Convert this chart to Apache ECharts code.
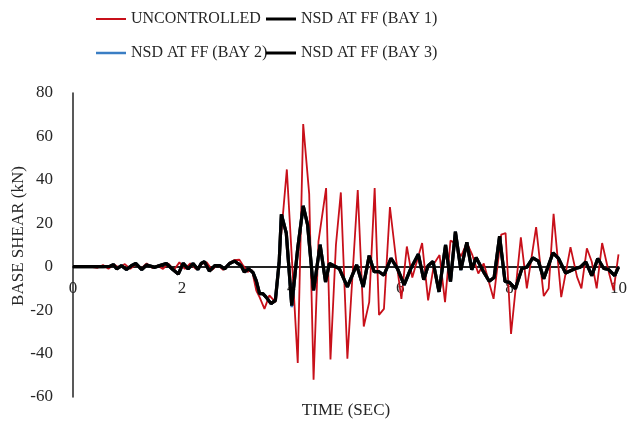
<!DOCTYPE html>
<html>
<head>
<meta charset="utf-8">
<script src="https://cdn.jsdelivr.net/npm/echarts@6/dist/echarts.min.js"></script>
<style>html,body{margin:0;padding:0;background:#fff;}#c{width:630px;height:425px;}</style>
</head>
<body>
<div id="c"></div>
<script>
// ---- data ----
const xTicks = [0, 2, 4, 6, 8, 10];
const yTicks = [-60, -40, -20, 0, 20, 40, 60, 80];

const uncTime = [
  0, 0.30, 0.45, 0.55, 0.65, 0.75, 0.85, 0.95, 1.05, 1.15,
  1.25, 1.35, 1.45, 1.55, 1.65, 1.75, 1.85, 1.95, 2.05, 2.15,
  2.25, 2.35, 2.45, 2.55, 2.65, 2.75, 2.85, 2.95, 3.05, 3.12,
  3.20, 3.28, 3.36, 3.42, 3.51, 3.60, 3.71, 3.92, 4.12, 4.22,
  4.33, 4.41, 4.50, 4.64, 4.72, 4.82, 4.91, 5.03, 5.22, 5.33,
  5.43, 5.53, 5.61, 5.70, 5.81, 5.92, 6.02, 6.12, 6.22, 6.40,
  6.51, 6.62, 6.72, 6.82, 6.92, 7.00, 7.11, 7.22, 7.32, 7.43,
  7.53, 7.71, 7.85, 7.93, 8.03, 8.21, 8.32, 8.49, 8.63, 8.72,
  8.81, 8.95, 9.12, 9.24, 9.32, 9.42, 9.51, 9.60, 9.70, 9.82,
  9.91, 10.0
];
const uncontrolled = [
  0, 0, -0.5, 0.8, -1, 1, -0.5, 1.2, -1, 1,
  -0.8, 1.5, -0.5, 0.5, -1, 1.5, -1.5, 2, -1, 1.5,
  -1, 1.2, 2, -1.5, 1, -1.5, 1.5, 3, 3.2, 0.5,
  -2.4, -1.5, -11, -14, -19.4, -13.2, -16.3, 44.8, -44.3, 65.7,
  33.4, -52, 11.7, 36.2, -42.7, 10, 34.2, -42.4, 35.3, -27.5,
  -16.3, 36.2, -22.2, -19.4, 27.5, 3.9, -14.8, 9.3, -5, 10.9,
  -15.5, 1.5, 5.4, -16.3, 12, 10.9, 4.7, 11, 5.4, -3.1,
  1.5, -14.8, 14.8, 15.5, -31, 13.5, -10, 18.2, -13.5, -10,
  24.4, -14, 9, -4.7, -10, 8.5, 2.3, -10, 10.9, -2.3,
  -10.9, 5.7
];

const nsdTime = [
  0, 0.50, 0.55, 0.68, 0.74, 0.80, 0.89, 0.98, 1.07, 1.15,
  1.26, 1.35, 1.50, 1.59, 1.71, 1.83, 1.93, 2.02, 2.11, 2.20,
  2.29, 2.35, 2.41, 2.50, 2.60, 2.69, 2.78, 2.87, 2.96, 3.02,
  3.08, 3.14, 3.22, 3.30, 3.36, 3.42, 3.48, 3.54, 3.63, 3.71,
  3.78, 3.82, 3.91, 4.01, 4.12, 4.22, 4.30, 4.41, 4.53, 4.63,
  4.70, 4.88, 5.03, 5.20, 5.32, 5.43, 5.52, 5.61, 5.70, 5.83,
  5.95, 6.07, 6.19, 6.33, 6.43, 6.51, 6.60, 6.71, 6.83, 6.92,
  7.01, 7.11, 7.22, 7.31, 7.39, 7.53, 7.63, 7.72, 7.82, 7.92,
  8.00, 8.11, 8.23, 8.32, 8.43, 8.53, 8.63, 8.80, 8.90, 9.03,
  9.21, 9.30, 9.40, 9.51, 9.62, 9.73, 9.82, 9.93, 10.0
];
const bay1 = [
  0, 0, 0, 0.2, 1, -1, 0.5, -1.3, 0.5, 1.5,
  -1.3, 0.8, -0.3, 0.5, 1.5, -1.3, -3.4, 1.6, -1, 1.5,
  -1.3, 1.5, 2.3, -2, 0.5, 0.5, -1, 1.5, 2.6, 1.5,
  0.5, -2.4, -1, -2.7, -6.5, -12.4, -12.4, -14, -17, -15.5,
  2.3, 24.1, 15.5, -17.9, 8.5, 28, 19.4, -10.9, 10.1, -7,
  1.5, -0.8, -9.3, 0.8, -9.3, 5.1, -2.3, -2.3, -3.9, 3.9,
  -1, -8.4, -1, 5.8, -6, 0.5, 2.4, -11.6, 10, -6.8,
  16.1, -1.5, 11.2, -1.4, 4.2, -2.5, -6.7, -5, 14, -6.8,
  -7.2, -10.1, -0.8, -0.2, 4.1, 2.6, -5.5, 6.4, 3.8, -2.9,
  -0.8, -0.2, 2.2, -4.1, 3.8, -0.8, -1.3, -4.1, -0.2
];
const bay2 = [
  0, 0, 0, 0.2, 1, -1, 0.5, -1.3, 0.5, 1.5,
  -1.3, 0.8, -0.3, 0.5, 1.5, -1.3, -3.4, 1.6, -1, 1.5,
  -1.3, 1.5, 2.3, -2, 0.5, 0.5, -1, 1.5, 2.6, 1.5,
  0.5, -2.4, -1, -2.7, -6.5, -12.4, -12.4, -14, -17, -15.5,
  2.3, 24.1, 15.5, -18.6, 8.5, 28, 19.4, -10.9, 10.1, -7,
  1.5, -0.8, -9.3, 0.8, -9.3, 5.1, -2.3, -2.3, -3.9, 3.9,
  -1, -8.4, -1, 5.8, -6, 0.5, 2.4, -11.6, 10, -6.8,
  16.1, -1.5, 11.2, -1.4, 4.2, -2.5, -6.7, -5, 14, -6.8,
  -7.2, -10.1, -0.8, -0.2, 4.1, 2.6, -5.5, 6.4, 3.8, -2.9,
  -0.8, -0.2, 2.2, -4.1, 3.8, -0.8, -1.3, -4.1, -0.2
];
const bay3 = bay1.slice();

const names = ['UNCONTROLLED', 'NSD AT FF (BAY 1)', 'NSD AT FF (BAY 2)', 'NSD AT FF (BAY 3)'];

// ---- chart ----
const FONT = "'Liberation Serif', 'Times New Roman', serif";
const TXT = '#262626';
const pair = (ts, vs) => ts.map((t, i) => [t, vs[i]]);

const chart = echarts.init(document.getElementById('c'), null, {renderer: 'canvas'});
const legendText = {fontFamily: FONT, fontSize: 16, color: TXT};
function lg(name, left, top, h) {
  return {data: [{name: name, icon: 'rect'}], left: left, top: top, itemWidth: 30, itemHeight: h,
          itemGap: 0, textStyle: legendText, selectedMode: false, padding: 0};
}
chart.setOption({
  animation: false,
  backgroundColor: '#fff',
  legend: [lg(names[0], 96, 11, 2), lg(names[1], 266, 11, 3), lg(names[2], 96, 45, 2.5), lg(names[3], 266, 45, 3)],
  grid: {left: 73, right: 10, top: 93, bottom: 28, containLabel: false},
  xAxis: {
    type: 'value', min: xTicks[0], max: xTicks[xTicks.length - 1], interval: 2,
    axisLine: {onZero: true, lineStyle: {color: '#222', width: 2}},
    axisTick: {show: false},
    splitLine: {show: false},
    axisLabel: {fontFamily: FONT, fontSize: 17, color: TXT, margin: -117}
  },
  yAxis: {
    type: 'value', min: yTicks[0], max: yTicks[yTicks.length - 1], interval: 20,
    axisLine: {show: true, onZero: false, lineStyle: {color: '#222', width: 1.5}},
    axisTick: {show: false},
    splitLine: {show: false},
    axisLabel: {fontFamily: FONT, fontSize: 17, color: TXT, margin: 20}
  },
  graphic: [
    {type: 'text', x: 19, y: 236, rotation: Math.PI / 2,
     style: {text: 'BASE SHEAR (kN)', font: '17px ' + FONT, fill: TXT, align: 'center', verticalAlign: 'middle'}},
    {type: 'text', x: 346, y: 411,
     style: {text: 'TIME (SEC)', font: '17px ' + FONT, fill: TXT, align: 'center', verticalAlign: 'middle'}}
  ],
  series: [
    {name: names[0], type: 'line', data: pair(uncTime, uncontrolled), symbol: 'none',
     lineStyle: {color: '#C8101A', width: 1.8}, itemStyle: {color: '#C8101A'}, z: 2},
    {name: names[1], type: 'line', data: pair(nsdTime, bay1), symbol: 'none',
     lineStyle: {color: '#000', width: 3.2}, itemStyle: {color: '#000'}, z: 3},
    {name: names[2], type: 'line', data: pair(nsdTime, bay2), symbol: 'none',
     lineStyle: {color: '#3A7EC4', width: 2.5}, itemStyle: {color: '#3A7EC4'}, z: 4},
    {name: names[3], type: 'line', data: pair(nsdTime, bay3), symbol: 'none',
     lineStyle: {color: '#000', width: 3.2}, itemStyle: {color: '#000'}, z: 5}
  ]
});
</script>
</body>
</html>
